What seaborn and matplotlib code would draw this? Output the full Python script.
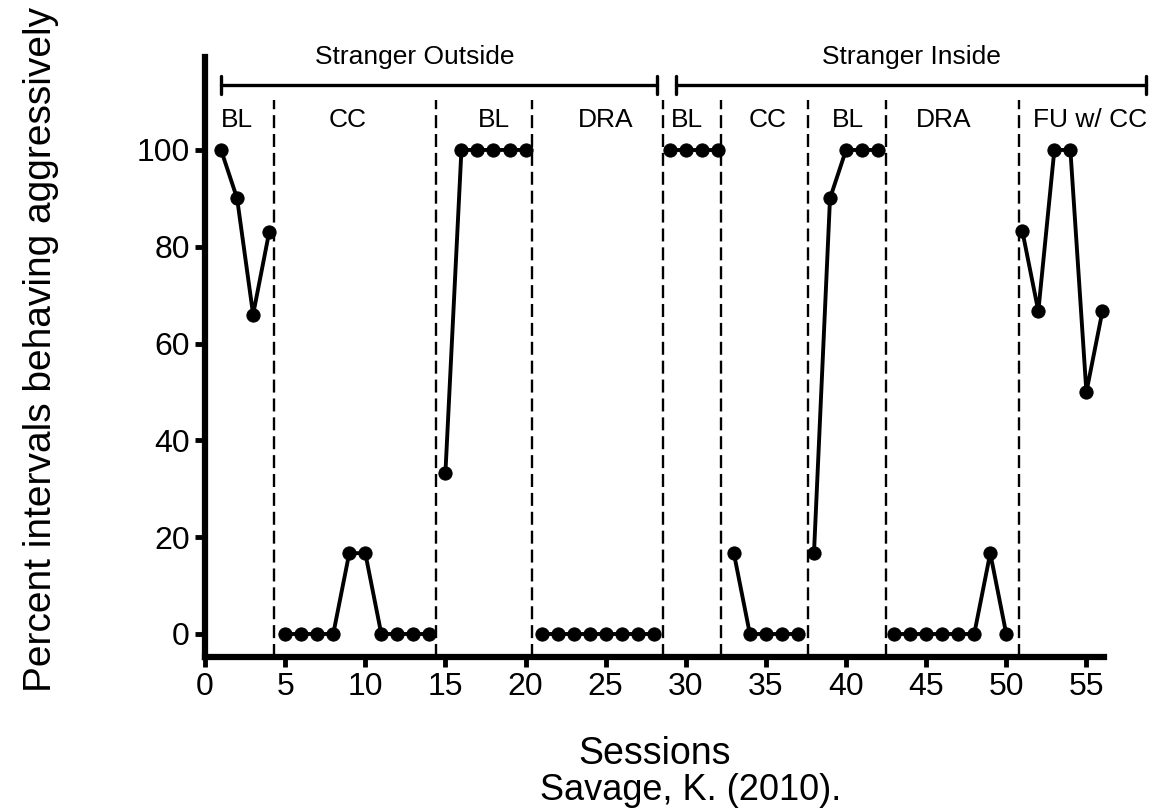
import numpy as np
import pandas as pd
import matplotlib
matplotlib.use("Agg")
import matplotlib.pyplot as plt
import seaborn as sns

# Data (session -> percent of intervals)
bl1_sessions = [1, 2, 3, 4]
bl1_values = [100, 90, 66, 83]
cc1_sessions = list(range(5, 15))
cc1_values = [0, 0, 0, 0, 16.7, 16.7, 0, 0, 0, 0]
bl2_sessions = list(range(15, 21))
bl2_values = [33.3, 100, 100, 100, 100, 100]
dra1_sessions = list(range(21, 29))
dra1_values = [0, 0, 0, 0, 0, 0, 0, 0]
bl3_sessions = [29, 30, 31, 32]
bl3_values = [100, 100, 100, 100]
cc2_sessions = [33, 34, 35, 36, 37]
cc2_values = [16.7, 0, 0, 0, 0]
bl4_sessions = [38, 39, 40, 41, 42]
bl4_values = [16.7, 90, 100, 100, 100]
dra2_sessions = list(range(43, 51))
dra2_values = [0, 0, 0, 0, 0, 0, 16.7, 0]
fu_sessions = [51, 52, 53, 54, 55, 56]
fu_values = [83.3, 66.7, 100, 100, 50, 66.7]

phase_lines = [4.3, 14.4, 20.4, 28.6, 32.2, 37.6, 42.5, 50.8]
phase_labels = ["BL", "CC", "BL", "DRA", "BL", "CC", "BL", "DRA", "FU w/ CC"]
phase_label_x = [2.0, 8.9, 18.0, 25.0, 30.1, 35.1, 40.1, 46.1, 55.2]

condition_labels = ["Stranger Outside", "Stranger Inside"]
condition_spans = [(1, 28.2), (29.4, 58.7)]
condition_label_x = [13.1, 44.1]

segments = [
    (bl1_sessions, bl1_values), (cc1_sessions, cc1_values),
    (bl2_sessions, bl2_values), (dra1_sessions, dra1_values),
    (bl3_sessions, bl3_values), (cc2_sessions, cc2_values),
    (bl4_sessions, bl4_values), (dra2_sessions, dra2_values),
    (fu_sessions, fu_values),
]

df = pd.DataFrame([
    {"session": s, "percent": v, "segment": i}
    for i, (ss, vv) in enumerate(segments)
    for s, v in zip(ss, vv)
])

sns.set_style("ticks")
plt.rcParams["font.family"] = ["Liberation Sans", "DejaVu Sans"]
for key in ["text.color", "axes.labelcolor", "xtick.color", "ytick.color", "axes.edgecolor"]:
    plt.rcParams[key] = "black"

fig = plt.figure(figsize=(11.73, 8.11), dpi=100)
ax = fig.add_axes([0.1748, 0.1899, 0.9412 - 0.1748, 0.9297 - 0.1899])

sns.lineplot(data=df, x="session", y="percent", hue="segment",
             palette=["black"] * len(segments), estimator=None, legend=False,
             marker="o", markersize=9.5, markeredgecolor="black",
             linewidth=2.8, ax=ax, clip_on=False, zorder=3)

# Phase change lines
ax.vlines(phase_lines, -4.75, 110.3, colors="black", linestyles=(0, (5.5, 2.5)),
          linewidth=1.7, clip_on=False)

for lab, x in zip(phase_labels, phase_label_x):
    ax.text(x, 106.2, lab, ha="center", va="center", fontsize=19)

# Condition brackets
for lab, (x0, x1), tx in zip(condition_labels, condition_spans, condition_label_x):
    ax.plot([x0, x1], [113.4, 113.4], color="black", lw=2.4, clip_on=False)
    ax.plot([x0, x0], [111.5, 115.3], color="black", lw=2.4, clip_on=False)
    ax.plot([x1, x1], [111.5, 115.3], color="black", lw=2.4, clip_on=False)
    ax.text(tx, 119.2, lab, ha="center", va="center", fontsize=19)

ax.set_xlim(0, 56.1)
ax.set_ylim(-4.75, 119.2)
ax.set_xticks(range(0, 56, 5))
ax.set_yticks(range(0, 101, 20))
ax.tick_params(axis="both", direction="out", length=7, width=3.5, labelsize=23, pad=4)
for side in ["left", "bottom"]:
    ax.spines[side].set_linewidth(4.5)
sns.despine(ax=ax)

ax.set_xlabel("Sessions", fontsize=27, labelpad=24)
ax.set_ylabel("Percent intervals behaving aggressively", fontsize=28)
ax.yaxis.set_label_coords(-0.162, 0.512)

fig.text(691 / 1173, 1 - 790 / 811, "Savage, K. (2010).", ha="center", va="center", fontsize=26)

fig.savefig("out.png", dpi=100)
